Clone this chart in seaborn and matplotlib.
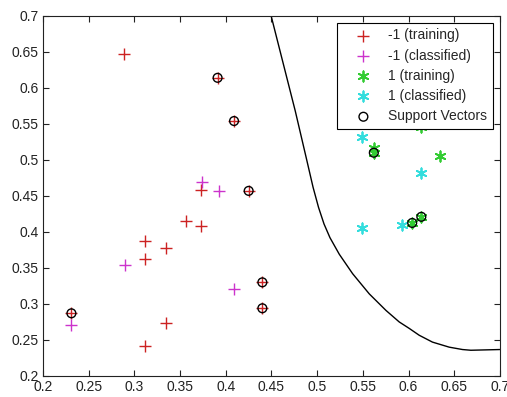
import numpy as np
import pandas as pd
import seaborn as sns
import matplotlib.pyplot as plt

# -1 class, training points
neg_train_x = [0.289, 0.373, 0.312, 0.312, 0.334, 0.356, 0.373, 0.334, 0.312,
               0.391, 0.409, 0.425, 0.231, 0.440, 0.440]
neg_train_y = [0.647, 0.458, 0.388, 0.362, 0.377, 0.415, 0.408, 0.273, 0.242,
               0.614, 0.554, 0.457, 0.287, 0.330, 0.294]
# -1 class, classified points
neg_cls_x = [0.374, 0.392, 0.290, 0.409, 0.231]
neg_cls_y = [0.470, 0.457, 0.354, 0.321, 0.271]
# 1 class, training points
pos_train_x = [0.614, 0.562, 0.562, 0.634, 0.604, 0.614]
pos_train_y = [0.546, 0.517, 0.510, 0.505, 0.4125, 0.421]
# 1 class, classified points
pos_cls_x = [0.549, 0.614, 0.549, 0.593]
pos_cls_y = [0.532, 0.482, 0.406, 0.410]
# support vectors
sv_x = [0.391, 0.409, 0.425, 0.231, 0.440, 0.440, 0.562, 0.604, 0.614]
sv_y = [0.614, 0.554, 0.457, 0.287, 0.330, 0.294, 0.510, 0.4125, 0.421]
# decision boundary
bound_x = [0.4496, 0.4630, 0.4760, 0.4880, 0.4955, 0.5015, 0.5075, 0.5140, 0.5242, 0.5388,
           0.5570, 0.5753, 0.5898, 0.6008, 0.6117, 0.6262, 0.6445, 0.6590, 0.6682, 0.700]
bound_y = [0.700, 0.633, 0.568, 0.503, 0.462, 0.434, 0.411, 0.392, 0.369, 0.342,
           0.314, 0.291, 0.275, 0.266, 0.2565, 0.247, 0.240, 0.2367, 0.2357, 0.2367]

sns.set_style("ticks")
plt.rcParams['font.family'] = ['Liberation Sans', 'DejaVu Sans']
plt.rcParams['font.size'] = 10

fig = plt.figure(figsize=(5.07, 3.97), dpi=100)
ax = fig.add_axes([0.085, 0.053, 0.901, 0.907])

bound = pd.DataFrame({"x": bound_x, "y": bound_y})
sns.lineplot(data=bound, x="x", y="y", sort=False, color="black", lw=1, ax=ax)

aster = (6, 2, 0)
sns.scatterplot(x=neg_train_x, y=neg_train_y, marker="+", s=70, color="#cc2222",
                linewidth=1, ax=ax, label="-1 (training)", zorder=3)
sns.scatterplot(x=neg_cls_x, y=neg_cls_y, marker="+", s=70, color="#cc33cc",
                linewidth=1, ax=ax, label="-1 (classified)", zorder=3)
sns.scatterplot(x=pos_train_x, y=pos_train_y, marker=aster, s=55, color="#33cc33",
                linewidth=1.3, ax=ax, label="1 (training)", zorder=3)
sns.scatterplot(x=pos_cls_x, y=pos_cls_y, marker=aster, s=55, color="#33dddd",
                linewidth=1.3, ax=ax, label="1 (classified)", zorder=3)
sns.scatterplot(x=sv_x, y=sv_y, marker="o", s=40, facecolor="none", edgecolor="black",
                linewidth=1, ax=ax, label="Support Vectors", zorder=4)

ax.set_xlim(0.2, 0.7)
ax.set_ylim(0.2, 0.7)
ax.set_xticks(np.arange(0.2, 0.701, 0.05))
ax.set_yticks(np.arange(0.2, 0.701, 0.05))
ax.set_xticklabels(["0.2", "0.25", "0.3", "0.35", "0.4", "0.45", "0.5", "0.55", "0.6", "0.65", "0.7"])
ax.set_yticklabels(["0.2", "0.25", "0.3", "0.35", "0.4", "0.45", "0.5", "0.55", "0.6", "0.65", "0.7"])
ax.tick_params(direction="in", top=True, right=True, length=4, width=0.8, pad=3,
               labelsize=10, colors="#222222")
ax.set_xlabel("")
ax.set_ylabel("")
for sp in ax.spines.values():
    sp.set_linewidth(0.8)
    sp.set_color("#222222")

leg = ax.legend(loc="upper right", frameon=True, fancybox=False, edgecolor="black",
                framealpha=1, handlelength=3, handletextpad=0.3, labelspacing=0.45,
                borderpad=0.4, borderaxespad=0.5, fontsize=10)
leg.get_frame().set_linewidth(0.8)

fig.savefig("out.png", dpi=100)
